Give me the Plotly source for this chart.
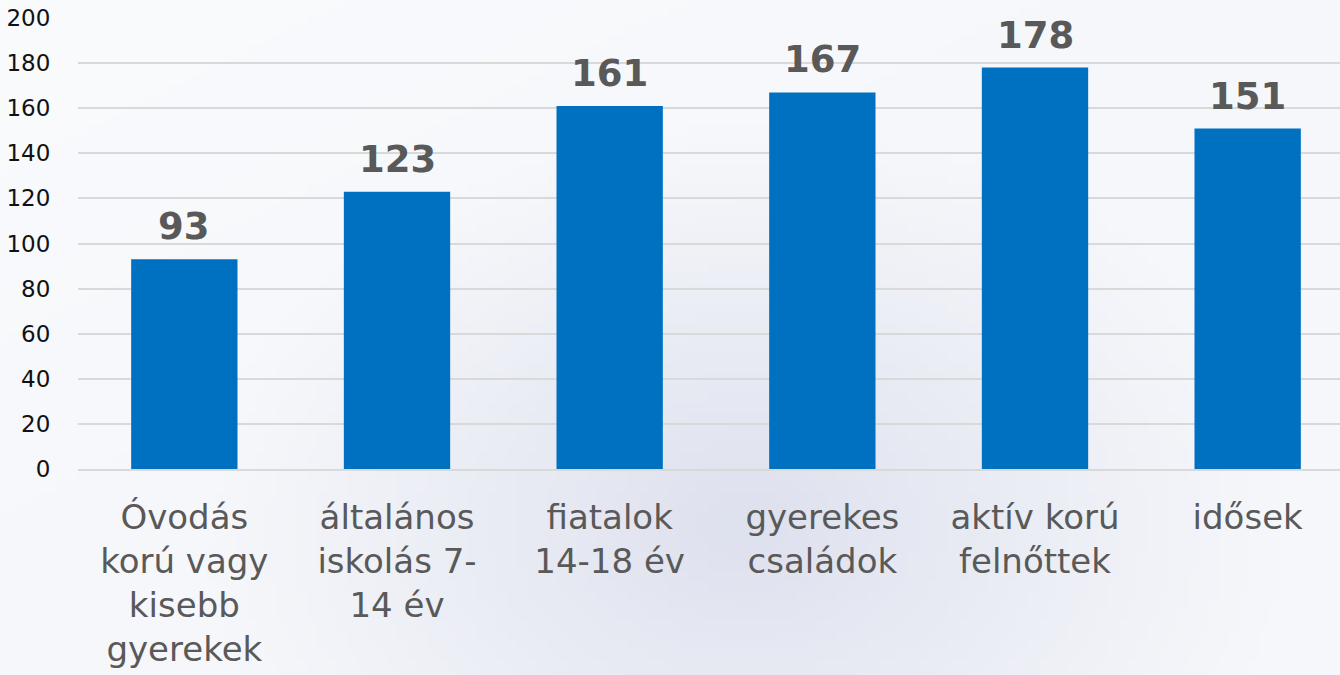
import base64, struct, zlib, math
import plotly.graph_objects as go

categories = ["Óvodás<br>korú vagy<br>kisebb<br>gyerekek", "általános<br>iskolás 7-<br>14 év",
              "fiatalok<br>14-18 év", "gyerekes<br>családok", "aktív korú<br>felnőttek", "idősek"]
values = [93, 123, 161, 167, 178, 151]
y_ticks = [0, 20, 40, 60, 80, 100, 120, 140, 160, 180, 200]


def background_png(w=135, h=68):
    rows = b""
    for j in range(h):
        row = b"\x00"
        for i in range(w):
            x = i / (w - 1)
            y = j / (h - 1)
            d = math.hypot((x - 0.55) / 0.40, (y - 0.78) / 0.60)
            t = max(0.0, 1.0 - d) ** 1.1
            t = 0.15 * min(1.0, x + y) + 0.85 * t
            t = min(1.0, t)
            r = int(250 - t * 28)
            g = int(251 - t * 26)
            b = int(253 - t * 15)
            row += bytes([r, g, b])
        rows += row

    def chunk(tag, data):
        c = struct.pack(">I", len(data)) + tag + data
        return c + struct.pack(">I", zlib.crc32(tag + data) & 0xffffffff)

    png = b"\x89PNG\r\n\x1a\n"
    png += chunk(b"IHDR", struct.pack(">IIBBBBB", w, h, 8, 2, 0, 0, 0))
    png += chunk(b"IDAT", zlib.compress(rows))
    png += chunk(b"IEND", b"")
    return "data:image/png;base64," + base64.b64encode(png).decode()


fig = go.Figure(go.Bar(
    x=categories, y=values,
    marker=dict(color="#0070C0", line=dict(width=0)),
    hoverinfo="x+y",
))

for c, v in zip(categories, values):
    fig.add_annotation(x=c, y=v, text=str(v), showarrow=False, yanchor="bottom", yshift=9,
                       font=dict(family="DejaVu Sans", size=37, color="#595959", weight="bold"))

W, H = 1354, 675
L, R, T, B = 78, 0, 18, 206
fig.update_layout(
    width=W, height=H,
    margin=dict(l=L, r=R, t=T, b=B),
    paper_bgcolor="#f7f8fb", plot_bgcolor="rgba(0,0,0,0)",
    bargap=0.5, showlegend=False,
    images=[dict(source=background_png(), xref="paper", yref="paper",
                 x=-L / (W - L - R), y=1 + T / (H - T - B),
                 sizex=W / (W - L - R), sizey=H / (H - T - B),
                 sizing="stretch", layer="below", xanchor="left", yanchor="top")],
    xaxis=dict(showgrid=False, tickfont=dict(family="DejaVu Sans", size=34, color="#595959"),
               showline=True, linecolor="#d9d9d9", linewidth=1.5, ticks="outside", ticklen=17,
               tickcolor="rgba(0,0,0,0)", automargin=False),
    yaxis=dict(range=[0, 200], tickvals=y_ticks, showgrid=True, gridcolor="#d9d9d9", gridwidth=1.5,
               zeroline=False, tickfont=dict(family="DejaVu Sans", size=23, color="#111111"),
               ticks="outside", ticklen=22, tickcolor="rgba(0,0,0,0)", automargin=False),
)

fig.write_html("out.html", config={"displayModeBar": False},
               post_script="document.body.style.margin='0';document.body.style.overflow='hidden';")
